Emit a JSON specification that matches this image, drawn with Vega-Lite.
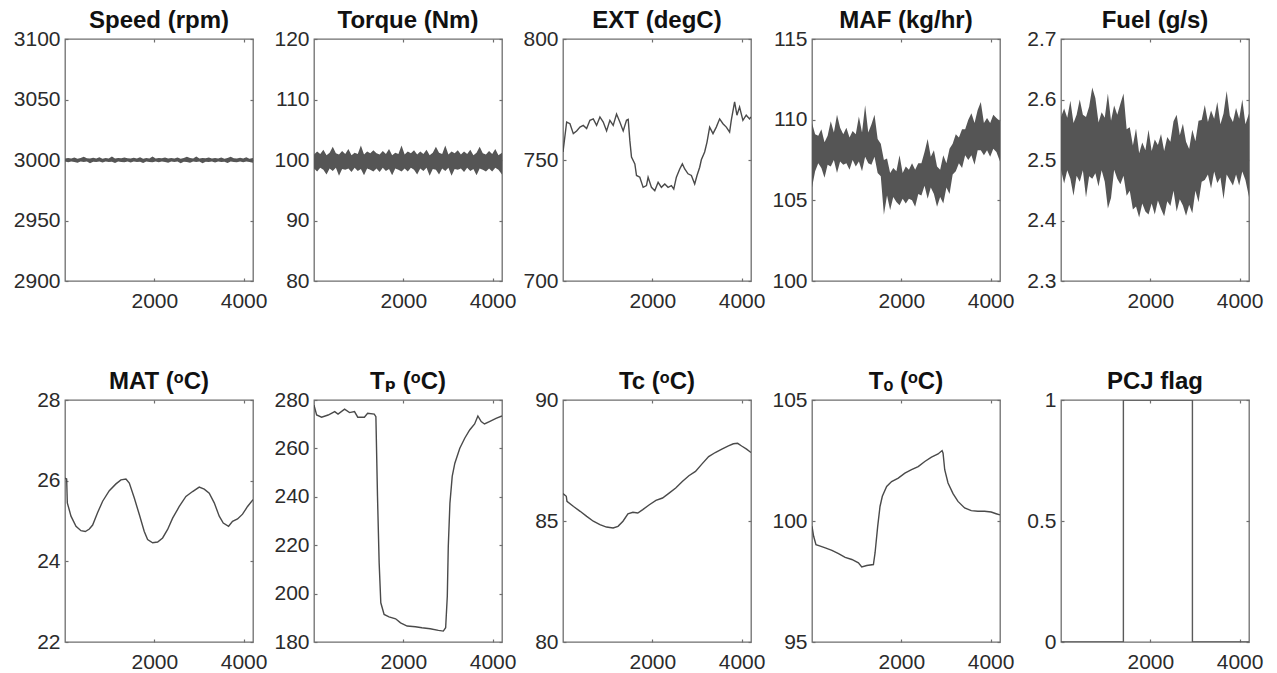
{
  "$schema": "https://vega.github.io/schema/vega-lite/v6.json",
  "background": "white",
  "padding": {"left": 12, "top": 8, "right": 0, "bottom": 0},
  "config": {
    "font": "Liberation Sans",
    "view": {"stroke": "#6e6e6e", "strokeWidth": 1.3},
    "axis": {"grid": false, "domain": false, "tickColor": "#6e6e6e", "tickSize": -3, "tickWidth": 1.2, "labelFontSize": 21, "labelColor": "#2b2b2b", "labelFont": "Liberation Sans", "labelFlush": false, "labelOverlap": false, "labelBound": false, "labelExpr": "datum.value + ''"},
    "axisBottom": {"labelPadding": 12},
    "axisLeft": {"labelPadding": 8},
    "axisTop": {"labelPadding": 0, "labels": false},
    "axisRight": {"labelPadding": 0, "labels": false},
    "title": {"font": "Liberation Sans, DejaVu Sans", "fontSize": 24, "fontWeight": "bold", "color": "#111111", "offset": -5, "anchor": "middle", "frame": "group"}
  },
  "datasets": {
    "speed": [
      {"t":0,"hi":3001.2,"lo":2998.7},{"t":70,"hi":3001.7,"lo":2998.2},{"t":140,"hi":3001.3,"lo":2998.8},{"t":210,"hi":3002.1,"lo":2998.4},{"t":280,"hi":3001.0,"lo":2997.7},{"t":350,"hi":3001.6,"lo":2998.7},{"t":420,"hi":3002.6,"lo":2998.3},{"t":490,"hi":3001.4,"lo":2998.8},{"t":560,"hi":3001.2,"lo":2997.4},{"t":630,"hi":3001.8,"lo":2998.6},{"t":700,"hi":3001.3,"lo":2998.4},{"t":770,"hi":3002.2,"lo":2998.7},{"t":840,"hi":3001.0,"lo":2998.0},{"t":910,"hi":3001.6,"lo":2998.8},{"t":980,"hi":3001.3,"lo":2998.3},{"t":1050,"hi":3002.9,"lo":2998.6},{"t":1120,"hi":3001.2,"lo":2997.5},{"t":1190,"hi":3001.7,"lo":2998.7},{"t":1260,"hi":3001.4,"lo":2998.4},{"t":1330,"hi":3002.0,"lo":2998.2},{"t":1400,"hi":3001.4,"lo":2998.7},{"t":1470,"hi":3001.2,"lo":2998.0},{"t":1540,"hi":3001.8,"lo":2998.8},{"t":1610,"hi":3001.3,"lo":2998.3},{"t":1680,"hi":3002.2,"lo":2998.6},{"t":1750,"hi":3001.0,"lo":2997.5},{"t":1820,"hi":3001.6,"lo":2998.7},{"t":1890,"hi":3001.3,"lo":2998.4},{"t":1960,"hi":3002.9,"lo":2998.2},{"t":2030,"hi":3001.2,"lo":2998.7},{"t":2100,"hi":3001.7,"lo":2998.2},{"t":2170,"hi":3001.4,"lo":2998.8},{"t":2240,"hi":3002.0,"lo":2998.4},{"t":2310,"hi":3001.2,"lo":2997.7},{"t":2380,"hi":3001.7,"lo":2998.7},{"t":2450,"hi":3001.3,"lo":2998.3},{"t":2520,"hi":3002.1,"lo":2998.8},{"t":2590,"hi":3001.0,"lo":2997.4},{"t":2660,"hi":3001.6,"lo":2998.6},{"t":2730,"hi":3002.6,"lo":2998.4},{"t":2800,"hi":3001.6,"lo":2997.7},{"t":2870,"hi":3001.3,"lo":2998.7},{"t":2940,"hi":3002.9,"lo":2998.3},{"t":3010,"hi":3001.2,"lo":2998.8},{"t":3080,"hi":3001.7,"lo":2997.4},{"t":3150,"hi":3001.4,"lo":2998.6},{"t":3220,"hi":3002.0,"lo":2998.4},{"t":3290,"hi":3001.2,"lo":2998.7},{"t":3360,"hi":3001.7,"lo":2998.0},{"t":3430,"hi":3001.3,"lo":2998.8},{"t":3500,"hi":3002.1,"lo":2998.3},{"t":3570,"hi":3001.0,"lo":2998.6},{"t":3640,"hi":3001.6,"lo":2997.5},{"t":3710,"hi":3002.6,"lo":2998.7},{"t":3780,"hi":3001.4,"lo":2998.4},{"t":3850,"hi":3001.2,"lo":2998.2},{"t":3920,"hi":3001.8,"lo":2998.7},{"t":3990,"hi":3001.3,"lo":2998.2},{"t":4060,"hi":3002.2,"lo":2998.8},{"t":4130,"hi":3001.0,"lo":2998.4},{"t":4210,"hi":3001.6,"lo":2997.7}
    ],
    "torque": [
      {"t":0,"hi":100.9,"lo":98.6},{"t":70,"hi":101.4,"lo":98.1},{"t":140,"hi":101.0,"lo":98.7},{"t":210,"hi":101.7,"lo":98.4},{"t":280,"hi":100.8,"lo":97.6},{"t":350,"hi":101.2,"lo":98.6},{"t":420,"hi":102.2,"lo":98.2},{"t":490,"hi":101.1,"lo":98.7},{"t":560,"hi":100.9,"lo":97.4},{"t":630,"hi":101.5,"lo":98.5},{"t":700,"hi":101.0,"lo":98.4},{"t":770,"hi":101.8,"lo":98.6},{"t":840,"hi":100.8,"lo":98.0},{"t":910,"hi":101.2,"lo":98.7},{"t":980,"hi":101.0,"lo":98.2},{"t":1050,"hi":102.4,"lo":98.5},{"t":1120,"hi":100.9,"lo":97.5},{"t":1190,"hi":101.4,"lo":98.6},{"t":1260,"hi":101.1,"lo":98.4},{"t":1330,"hi":101.6,"lo":98.1},{"t":1400,"hi":101.1,"lo":98.6},{"t":1470,"hi":100.9,"lo":98.0},{"t":1540,"hi":101.5,"lo":98.7},{"t":1610,"hi":101.0,"lo":98.2},{"t":1680,"hi":101.8,"lo":98.5},{"t":1750,"hi":100.8,"lo":97.5},{"t":1820,"hi":101.2,"lo":98.6},{"t":1890,"hi":101.0,"lo":98.4},{"t":1960,"hi":102.4,"lo":98.1},{"t":2030,"hi":100.9,"lo":98.6},{"t":2100,"hi":101.4,"lo":98.1},{"t":2170,"hi":101.1,"lo":98.7},{"t":2240,"hi":101.6,"lo":98.4},{"t":2310,"hi":100.9,"lo":97.6},{"t":2380,"hi":101.4,"lo":98.6},{"t":2450,"hi":101.0,"lo":98.2},{"t":2520,"hi":101.7,"lo":98.7},{"t":2590,"hi":100.8,"lo":97.4},{"t":2660,"hi":101.2,"lo":98.5},{"t":2730,"hi":102.2,"lo":98.4},{"t":2800,"hi":101.2,"lo":97.6},{"t":2870,"hi":101.0,"lo":98.6},{"t":2940,"hi":102.4,"lo":98.2},{"t":3010,"hi":100.9,"lo":98.7},{"t":3080,"hi":101.4,"lo":97.4},{"t":3150,"hi":101.1,"lo":98.5},{"t":3220,"hi":101.6,"lo":98.4},{"t":3290,"hi":100.9,"lo":98.6},{"t":3360,"hi":101.4,"lo":98.0},{"t":3430,"hi":101.0,"lo":98.7},{"t":3500,"hi":101.7,"lo":98.2},{"t":3570,"hi":100.8,"lo":98.5},{"t":3640,"hi":101.2,"lo":97.5},{"t":3710,"hi":102.2,"lo":98.6},{"t":3780,"hi":101.1,"lo":98.4},{"t":3850,"hi":100.9,"lo":98.1},{"t":3920,"hi":101.5,"lo":98.6},{"t":3990,"hi":101.0,"lo":98.1},{"t":4060,"hi":101.8,"lo":98.7},{"t":4130,"hi":100.8,"lo":98.4},{"t":4210,"hi":101.2,"lo":97.6}
    ],
    "ext": [
      {"t":0,"v":753.3},{"t":82,"v":765.7},{"t":156,"v":765},{"t":231,"v":760.9},{"t":305,"v":762},{"t":380,"v":763.6},{"t":454,"v":764.3},{"t":529,"v":763},{"t":603,"v":766.4},{"t":678,"v":767},{"t":752,"v":764.3},{"t":827,"v":767.8},{"t":901,"v":765.7},{"t":976,"v":762},{"t":1050,"v":766.4},{"t":1124,"v":764.3},{"t":1199,"v":769},{"t":1273,"v":765.7},{"t":1348,"v":762},{"t":1422,"v":766.4},{"t":1460,"v":766.8},{"t":1497,"v":758},{"t":1534,"v":751.2},{"t":1609,"v":748.4},{"t":1646,"v":743.6},{"t":1720,"v":742.9},{"t":1795,"v":738.7},{"t":1869,"v":739.4},{"t":1906,"v":742.9},{"t":1981,"v":738.7},{"t":2055,"v":737.3},{"t":2130,"v":740.8},{"t":2204,"v":738.7},{"t":2279,"v":740.1},{"t":2353,"v":738.7},{"t":2428,"v":739.4},{"t":2480,"v":738},{"t":2539,"v":742.9},{"t":2614,"v":746.3},{"t":2673,"v":748.4},{"t":2726,"v":746.3},{"t":2800,"v":744.3},{"t":2875,"v":743.6},{"t":2949,"v":740.1},{"t":3001,"v":743.6},{"t":3061,"v":747},{"t":3098,"v":750.1},{"t":3172,"v":753.3},{"t":3225,"v":757.4},{"t":3284,"v":763.6},{"t":3359,"v":760.9},{"t":3433,"v":763.6},{"t":3508,"v":767},{"t":3582,"v":765},{"t":3657,"v":763.6},{"t":3731,"v":761.5},{"t":3768,"v":766.4},{"t":3843,"v":774},{"t":3895,"v":768.5},{"t":3954,"v":771.9},{"t":4029,"v":766.4},{"t":4103,"v":768.5},{"t":4178,"v":767},{"t":4210,"v":767.8}
    ],
    "maf": [
      {"t":0,"hi":109.8,"lo":105.8},{"t":70,"hi":109.1,"lo":106.8},{"t":140,"hi":109.0,"lo":107.3},{"t":210,"hi":109.4,"lo":107.0},{"t":280,"hi":108.6,"lo":106.4},{"t":350,"hi":109.0,"lo":107.2},{"t":420,"hi":109.9,"lo":107.1},{"t":490,"hi":109.2,"lo":107.5},{"t":560,"hi":110.3,"lo":106.7},{"t":630,"hi":109.5,"lo":107.4},{"t":700,"hi":109.1,"lo":107.2},{"t":770,"hi":109.5,"lo":107.3},{"t":840,"hi":108.9,"lo":106.9},{"t":910,"hi":109.3,"lo":107.5},{"t":980,"hi":109.1,"lo":107.1},{"t":1050,"hi":110.2,"lo":107.4},{"t":1120,"hi":109.2,"lo":106.8},{"t":1190,"hi":110.9,"lo":107.7},{"t":1260,"hi":109.2,"lo":107.3},{"t":1330,"hi":109.7,"lo":107.2},{"t":1400,"hi":110.3,"lo":107.7},{"t":1470,"hi":108.8,"lo":106.7},{"t":1540,"hi":108.5,"lo":106.5},{"t":1610,"hi":107.5,"lo":104.1},{"t":1680,"hi":107.6,"lo":105.3},{"t":1750,"hi":106.7,"lo":104.4},{"t":1820,"hi":107.0,"lo":105.2},{"t":1890,"hi":106.8,"lo":104.9},{"t":1960,"hi":107.8,"lo":104.7},{"t":2030,"hi":106.7,"lo":105.1},{"t":2100,"hi":107.1,"lo":104.8},{"t":2170,"hi":106.9,"lo":105.1},{"t":2240,"hi":107.3,"lo":105.0},{"t":2310,"hi":106.9,"lo":104.6},{"t":2380,"hi":107.3,"lo":105.4},{"t":2450,"hi":107.3,"lo":105.3},{"t":2520,"hi":108.0,"lo":105.9},{"t":2590,"hi":108.8,"lo":105.1},{"t":2660,"hi":107.7,"lo":105.8},{"t":2730,"hi":108.1,"lo":105.4},{"t":2800,"hi":107.1,"lo":104.6},{"t":2870,"hi":106.9,"lo":105.2},{"t":2940,"hi":107.8,"lo":104.8},{"t":3010,"hi":107.3,"lo":105.8},{"t":3080,"hi":108.2,"lo":105.4},{"t":3150,"hi":108.5,"lo":106.6},{"t":3220,"hi":109.1,"lo":106.8},{"t":3290,"hi":108.9,"lo":107.3},{"t":3360,"hi":109.4,"lo":107.0},{"t":3430,"hi":109.4,"lo":107.8},{"t":3500,"hi":110.0,"lo":107.5},{"t":3570,"hi":110.4,"lo":107.8},{"t":3640,"hi":109.8,"lo":107.2},{"t":3710,"hi":110.6,"lo":108.1},{"t":3780,"hi":111.1,"lo":108.1},{"t":3850,"hi":109.8,"lo":107.8},{"t":3920,"hi":110.1,"lo":108.1},{"t":3990,"hi":109.8,"lo":107.7},{"t":4060,"hi":110.3,"lo":108.2},{"t":4130,"hi":110.1,"lo":108.0},{"t":4210,"hi":109.9,"lo":107.4}
    ],
    "fuel": [
      {"t":0,"hi":2.571,"lo":2.484},{"t":70,"hi":2.585,"lo":2.461},{"t":140,"hi":2.57,"lo":2.483},{"t":210,"hi":2.598,"lo":2.469},{"t":280,"hi":2.561,"lo":2.441},{"t":350,"hi":2.575,"lo":2.474},{"t":420,"hi":2.6,"lo":2.464},{"t":490,"hi":2.575,"lo":2.483},{"t":560,"hi":2.571,"lo":2.438},{"t":630,"hi":2.588,"lo":2.473},{"t":700,"hi":2.62,"lo":2.469},{"t":770,"hi":2.602,"lo":2.478},{"t":840,"hi":2.562,"lo":2.456},{"t":910,"hi":2.579,"lo":2.483},{"t":980,"hi":2.57,"lo":2.464},{"t":1050,"hi":2.61,"lo":2.42},{"t":1120,"hi":2.565,"lo":2.437},{"t":1190,"hi":2.59,"lo":2.484},{"t":1260,"hi":2.575,"lo":2.469},{"t":1330,"hi":2.593,"lo":2.46},{"t":1400,"hi":2.61,"lo":2.474},{"t":1470,"hi":2.551,"lo":2.441},{"t":1540,"hi":2.554,"lo":2.449},{"t":1610,"hi":2.524,"lo":2.418},{"t":1680,"hi":2.552,"lo":2.423},{"t":1750,"hi":2.511,"lo":2.405},{"t":1820,"hi":2.529,"lo":2.428},{"t":1890,"hi":2.516,"lo":2.415},{"t":1960,"hi":2.55,"lo":2.41},{"t":2030,"hi":2.515,"lo":2.428},{"t":2100,"hi":2.534,"lo":2.41},{"t":2170,"hi":2.525,"lo":2.433},{"t":2240,"hi":2.543,"lo":2.419},{"t":2310,"hi":2.515,"lo":2.407},{"t":2380,"hi":2.538,"lo":2.432},{"t":2450,"hi":2.53,"lo":2.424},{"t":2520,"hi":2.564,"lo":2.449},{"t":2590,"hi":2.575,"lo":2.415},{"t":2660,"hi":2.541,"lo":2.435},{"t":2730,"hi":2.56,"lo":2.425},{"t":2800,"hi":2.53,"lo":2.408},{"t":2870,"hi":2.518,"lo":2.426},{"t":2940,"hi":2.55,"lo":2.412},{"t":3010,"hi":2.531,"lo":2.449},{"t":3080,"hi":2.565,"lo":2.43},{"t":3150,"hi":2.566,"lo":2.464},{"t":3220,"hi":2.591,"lo":2.467},{"t":3290,"hi":2.563,"lo":2.476},{"t":3360,"hi":2.582,"lo":2.453},{"t":3430,"hi":2.568,"lo":2.481},{"t":3500,"hi":2.596,"lo":2.462},{"t":3570,"hi":2.559,"lo":2.471},{"t":3640,"hi":2.577,"lo":2.435},{"t":3710,"hi":2.614,"lo":2.476},{"t":3780,"hi":2.573,"lo":2.467},{"t":3850,"hi":2.563,"lo":2.458},{"t":3920,"hi":2.586,"lo":2.476},{"t":3990,"hi":2.568,"lo":2.458},{"t":4060,"hi":2.6,"lo":2.481},{"t":4130,"hi":2.559,"lo":2.467},{"t":4210,"hi":2.577,"lo":2.439}
    ],
    "mat": [
      {"t":0,"v":26.06},{"t":37,"v":26.04},{"t":52,"v":25.45},{"t":134,"v":25.12},{"t":246,"v":24.87},{"t":358,"v":24.76},{"t":455,"v":24.74},{"t":545,"v":24.8},{"t":619,"v":24.9},{"t":731,"v":25.21},{"t":843,"v":25.49},{"t":992,"v":25.75},{"t":1141,"v":25.92},{"t":1253,"v":26.02},{"t":1365,"v":26.04},{"t":1440,"v":25.94},{"t":1552,"v":25.57},{"t":1664,"v":25.16},{"t":1775,"v":24.74},{"t":1850,"v":24.54},{"t":1962,"v":24.46},{"t":2074,"v":24.48},{"t":2186,"v":24.58},{"t":2298,"v":24.79},{"t":2410,"v":25.07},{"t":2559,"v":25.36},{"t":2708,"v":25.61},{"t":2857,"v":25.73},{"t":3006,"v":25.84},{"t":3118,"v":25.79},{"t":3230,"v":25.69},{"t":3342,"v":25.45},{"t":3454,"v":25.12},{"t":3544,"v":24.95},{"t":3663,"v":24.87},{"t":3752,"v":24.99},{"t":3864,"v":25.05},{"t":3976,"v":25.17},{"t":4088,"v":25.36},{"t":4210,"v":25.53}
    ],
    "tp": [
      {"t":0,"v":277.9},{"t":59,"v":273.8},{"t":170,"v":272.9},{"t":317,"v":273.8},{"t":464,"v":275.2},{"t":538,"v":274.2},{"t":685,"v":276.2},{"t":796,"v":274.8},{"t":907,"v":275.2},{"t":980,"v":272.9},{"t":1128,"v":272.9},{"t":1201,"v":274.5},{"t":1349,"v":274.2},{"t":1386,"v":273.1},{"t":1422,"v":240.2},{"t":1459,"v":212.7},{"t":1496,"v":196.2},{"t":1570,"v":191.4},{"t":1680,"v":190.4},{"t":1828,"v":189.6},{"t":1938,"v":187.9},{"t":2086,"v":186.6},{"t":2270,"v":186.3},{"t":2417,"v":185.9},{"t":2602,"v":185.5},{"t":2786,"v":184.8},{"t":2896,"v":184.5},{"t":2948,"v":185.9},{"t":2985,"v":198.9},{"t":3007,"v":219.5},{"t":3044,"v":237.4},{"t":3095,"v":248.4},{"t":3154,"v":253.9},{"t":3265,"v":260.1},{"t":3375,"v":264.2},{"t":3486,"v":267.6},{"t":3597,"v":270.1},{"t":3670,"v":273.4},{"t":3744,"v":271.1},{"t":3818,"v":270.1},{"t":3928,"v":271.1},{"t":4076,"v":272.4},{"t":4210,"v":273.4}
    ],
    "tc": [
      {"t":0,"v":86.13},{"t":74,"v":86.02},{"t":89,"v":85.81},{"t":236,"v":85.6},{"t":384,"v":85.4},{"t":531,"v":85.19},{"t":679,"v":84.99},{"t":827,"v":84.85},{"t":974,"v":84.75},{"t":1122,"v":84.71},{"t":1232,"v":84.78},{"t":1343,"v":84.99},{"t":1454,"v":85.3},{"t":1565,"v":85.36},{"t":1675,"v":85.33},{"t":1786,"v":85.47},{"t":1934,"v":85.67},{"t":2081,"v":85.85},{"t":2229,"v":85.95},{"t":2376,"v":86.15},{"t":2524,"v":86.36},{"t":2672,"v":86.63},{"t":2819,"v":86.87},{"t":2967,"v":87.05},{"t":3114,"v":87.36},{"t":3262,"v":87.66},{"t":3410,"v":87.83},{"t":3557,"v":87.97},{"t":3705,"v":88.1},{"t":3815,"v":88.19},{"t":3911,"v":88.21},{"t":4000,"v":88.1},{"t":4111,"v":87.97},{"t":4210,"v":87.83}
    ],
    "to": [
      {"t":0,"v":99.78},{"t":37,"v":99.37},{"t":89,"v":99.02},{"t":186,"v":98.96},{"t":297,"v":98.89},{"t":446,"v":98.79},{"t":594,"v":98.65},{"t":743,"v":98.5},{"t":892,"v":98.41},{"t":1040,"v":98.27},{"t":1114,"v":98.1},{"t":1226,"v":98.16},{"t":1375,"v":98.2},{"t":1412,"v":98.68},{"t":1471,"v":99.78},{"t":1523,"v":100.6},{"t":1575,"v":101.02},{"t":1672,"v":101.43},{"t":1783,"v":101.63},{"t":1932,"v":101.77},{"t":2080,"v":101.98},{"t":2229,"v":102.12},{"t":2378,"v":102.25},{"t":2526,"v":102.46},{"t":2675,"v":102.64},{"t":2823,"v":102.77},{"t":2913,"v":102.91},{"t":2935,"v":102.8},{"t":2972,"v":102.12},{"t":3046,"v":101.57},{"t":3158,"v":101.13},{"t":3269,"v":100.81},{"t":3418,"v":100.54},{"t":3566,"v":100.43},{"t":3715,"v":100.4},{"t":3864,"v":100.4},{"t":4012,"v":100.37},{"t":4124,"v":100.3},{"t":4210,"v":100.25}
    ],
    "pcj": [
      {"t":0,"v":0},{"t":1397,"v":0},{"t":1397,"v":1},{"t":2943,"v":1},{"t":2943,"v":0},{"t":4210,"v":0}
    ]
  },
  "columns": 5,
  "spacing": {"row": 119, "column": 61},
  "bounds": "flush",
  "concat": [
    {"title": "Speed (rpm)", "width": 188, "height": 242, "data": {"name": "speed"},
     "layer": [
       {"mark": {"type": "area", "color": "#555555", "clip": true},
        "encoding": {
          "x": {"field": "t", "type": "quantitative", "title": null, "scale": {"domain": [0, 4210], "nice": false}, "axis": {"values": [2000, 4000]}},
          "y": {"field": "hi", "type": "quantitative", "title": null, "scale": {"domain": [2900, 3100], "nice": false, "zero": false}, "axis": {"values": [2900, 2950, 3000, 3050, 3100]}},
          "y2": {"field": "lo"}}},
       {"mark": {"type": "point", "opacity": 0},
        "encoding": {
          "x": {"field": "t", "type": "quantitative", "title": null, "scale": {"domain": [0, 4210], "nice": false}, "axis": {"orient": "top", "values": [2000, 4000], "labels": false}},
          "y": {"field": "hi", "type": "quantitative", "title": null, "scale": {"domain": [2900, 3100], "nice": false, "zero": false}, "axis": {"orient": "right", "values": [2900, 2950, 3000, 3050, 3100], "labels": false}}}}
     ],
     "resolve": {"scale": {"x": "independent", "y": "independent"}}},
    {"title": "Torque (Nm)", "width": 188, "height": 242, "data": {"name": "torque"},
     "layer": [
       {"mark": {"type": "area", "color": "#555555", "clip": true},
        "encoding": {
          "x": {"field": "t", "type": "quantitative", "title": null, "scale": {"domain": [0, 4210], "nice": false}, "axis": {"values": [2000, 4000]}},
          "y": {"field": "hi", "type": "quantitative", "title": null, "scale": {"domain": [80, 120], "nice": false, "zero": false}, "axis": {"values": [80, 90, 100, 110, 120]}},
          "y2": {"field": "lo"}}},
       {"mark": {"type": "point", "opacity": 0},
        "encoding": {
          "x": {"field": "t", "type": "quantitative", "title": null, "scale": {"domain": [0, 4210], "nice": false}, "axis": {"orient": "top", "values": [2000, 4000], "labels": false}},
          "y": {"field": "hi", "type": "quantitative", "title": null, "scale": {"domain": [80, 120], "nice": false, "zero": false}, "axis": {"orient": "right", "values": [80, 90, 100, 110, 120], "labels": false}}}}
     ],
     "resolve": {"scale": {"x": "independent", "y": "independent"}}},
    {"title": "EXT (degC)", "width": 188, "height": 242, "data": {"name": "ext"},
     "layer": [
       {"mark": {"type": "line", "color": "#4a4a4a", "strokeWidth": 1.4, "clip": true},
        "encoding": {
          "x": {"field": "t", "type": "quantitative", "title": null, "scale": {"domain": [0, 4210], "nice": false}, "axis": {"values": [2000, 4000]}},
          "y": {"field": "v", "type": "quantitative", "title": null, "scale": {"domain": [700, 800], "nice": false, "zero": false}, "axis": {"values": [700, 750, 800]}}}},
       {"mark": {"type": "point", "opacity": 0},
        "encoding": {
          "x": {"field": "t", "type": "quantitative", "title": null, "scale": {"domain": [0, 4210], "nice": false}, "axis": {"orient": "top", "values": [2000, 4000], "labels": false}},
          "y": {"field": "v", "type": "quantitative", "title": null, "scale": {"domain": [700, 800], "nice": false, "zero": false}, "axis": {"orient": "right", "values": [700, 750, 800], "labels": false}}}}
     ],
     "resolve": {"scale": {"x": "independent", "y": "independent"}}},
    {"title": "MAF (kg/hr)", "width": 188, "height": 242, "data": {"name": "maf"},
     "layer": [
       {"mark": {"type": "area", "color": "#555555", "clip": true},
        "encoding": {
          "x": {"field": "t", "type": "quantitative", "title": null, "scale": {"domain": [0, 4210], "nice": false}, "axis": {"values": [2000, 4000]}},
          "y": {"field": "hi", "type": "quantitative", "title": null, "scale": {"domain": [100, 115], "nice": false, "zero": false}, "axis": {"values": [100, 105, 110, 115]}},
          "y2": {"field": "lo"}}},
       {"mark": {"type": "point", "opacity": 0},
        "encoding": {
          "x": {"field": "t", "type": "quantitative", "title": null, "scale": {"domain": [0, 4210], "nice": false}, "axis": {"orient": "top", "values": [2000, 4000], "labels": false}},
          "y": {"field": "hi", "type": "quantitative", "title": null, "scale": {"domain": [100, 115], "nice": false, "zero": false}, "axis": {"orient": "right", "values": [100, 105, 110, 115], "labels": false}}}}
     ],
     "resolve": {"scale": {"x": "independent", "y": "independent"}}},
    {"title": "Fuel (g/s)", "width": 188, "height": 242, "data": {"name": "fuel"},
     "layer": [
       {"mark": {"type": "area", "color": "#555555", "clip": true},
        "encoding": {
          "x": {"field": "t", "type": "quantitative", "title": null, "scale": {"domain": [0, 4210], "nice": false}, "axis": {"values": [2000, 4000]}},
          "y": {"field": "hi", "type": "quantitative", "title": null, "scale": {"domain": [2.3, 2.7], "nice": false, "zero": false}, "axis": {"values": [2.3, 2.4, 2.5, 2.6, 2.7]}},
          "y2": {"field": "lo"}}},
       {"mark": {"type": "point", "opacity": 0},
        "encoding": {
          "x": {"field": "t", "type": "quantitative", "title": null, "scale": {"domain": [0, 4210], "nice": false}, "axis": {"orient": "top", "values": [2000, 4000], "labels": false}},
          "y": {"field": "hi", "type": "quantitative", "title": null, "scale": {"domain": [2.3, 2.7], "nice": false, "zero": false}, "axis": {"orient": "right", "values": [2.3, 2.4, 2.5, 2.6, 2.7], "labels": false}}}}
     ],
     "resolve": {"scale": {"x": "independent", "y": "independent"}}},
    {"title": "MAT (ᵒC)", "width": 188, "height": 242, "data": {"name": "mat"},
     "layer": [
       {"mark": {"type": "line", "color": "#4a4a4a", "strokeWidth": 1.4, "clip": true},
        "encoding": {
          "x": {"field": "t", "type": "quantitative", "title": null, "scale": {"domain": [0, 4210], "nice": false}, "axis": {"values": [2000, 4000]}},
          "y": {"field": "v", "type": "quantitative", "title": null, "scale": {"domain": [22, 28], "nice": false, "zero": false}, "axis": {"values": [22, 24, 26, 28]}}}},
       {"mark": {"type": "point", "opacity": 0},
        "encoding": {
          "x": {"field": "t", "type": "quantitative", "title": null, "scale": {"domain": [0, 4210], "nice": false}, "axis": {"orient": "top", "values": [2000, 4000], "labels": false}},
          "y": {"field": "v", "type": "quantitative", "title": null, "scale": {"domain": [22, 28], "nice": false, "zero": false}, "axis": {"orient": "right", "values": [22, 24, 26, 28], "labels": false}}}}
     ],
     "resolve": {"scale": {"x": "independent", "y": "independent"}}},
    {"title": "Tₚ (ᵒC)", "width": 188, "height": 242, "data": {"name": "tp"},
     "layer": [
       {"mark": {"type": "line", "color": "#4a4a4a", "strokeWidth": 1.4, "clip": true},
        "encoding": {
          "x": {"field": "t", "type": "quantitative", "title": null, "scale": {"domain": [0, 4210], "nice": false}, "axis": {"values": [2000, 4000]}},
          "y": {"field": "v", "type": "quantitative", "title": null, "scale": {"domain": [180, 280], "nice": false, "zero": false}, "axis": {"values": [180, 200, 220, 240, 260, 280]}}}},
       {"mark": {"type": "point", "opacity": 0},
        "encoding": {
          "x": {"field": "t", "type": "quantitative", "title": null, "scale": {"domain": [0, 4210], "nice": false}, "axis": {"orient": "top", "values": [2000, 4000], "labels": false}},
          "y": {"field": "v", "type": "quantitative", "title": null, "scale": {"domain": [180, 280], "nice": false, "zero": false}, "axis": {"orient": "right", "values": [180, 200, 220, 240, 260, 280], "labels": false}}}}
     ],
     "resolve": {"scale": {"x": "independent", "y": "independent"}}},
    {"title": "Tc (ᵒC)", "width": 188, "height": 242, "data": {"name": "tc"},
     "layer": [
       {"mark": {"type": "line", "color": "#4a4a4a", "strokeWidth": 1.4, "clip": true},
        "encoding": {
          "x": {"field": "t", "type": "quantitative", "title": null, "scale": {"domain": [0, 4210], "nice": false}, "axis": {"values": [2000, 4000]}},
          "y": {"field": "v", "type": "quantitative", "title": null, "scale": {"domain": [80, 90], "nice": false, "zero": false}, "axis": {"values": [80, 85, 90]}}}},
       {"mark": {"type": "point", "opacity": 0},
        "encoding": {
          "x": {"field": "t", "type": "quantitative", "title": null, "scale": {"domain": [0, 4210], "nice": false}, "axis": {"orient": "top", "values": [2000, 4000], "labels": false}},
          "y": {"field": "v", "type": "quantitative", "title": null, "scale": {"domain": [80, 90], "nice": false, "zero": false}, "axis": {"orient": "right", "values": [80, 85, 90], "labels": false}}}}
     ],
     "resolve": {"scale": {"x": "independent", "y": "independent"}}},
    {"title": "Tₒ (ᵒC)", "width": 188, "height": 242, "data": {"name": "to"},
     "layer": [
       {"mark": {"type": "line", "color": "#4a4a4a", "strokeWidth": 1.4, "clip": true},
        "encoding": {
          "x": {"field": "t", "type": "quantitative", "title": null, "scale": {"domain": [0, 4210], "nice": false}, "axis": {"values": [2000, 4000]}},
          "y": {"field": "v", "type": "quantitative", "title": null, "scale": {"domain": [95, 105], "nice": false, "zero": false}, "axis": {"values": [95, 100, 105]}}}},
       {"mark": {"type": "point", "opacity": 0},
        "encoding": {
          "x": {"field": "t", "type": "quantitative", "title": null, "scale": {"domain": [0, 4210], "nice": false}, "axis": {"orient": "top", "values": [2000, 4000], "labels": false}},
          "y": {"field": "v", "type": "quantitative", "title": null, "scale": {"domain": [95, 105], "nice": false, "zero": false}, "axis": {"orient": "right", "values": [95, 100, 105], "labels": false}}}}
     ],
     "resolve": {"scale": {"x": "independent", "y": "independent"}}},
    {"title": "PCJ flag", "width": 188, "height": 242, "data": {"name": "pcj"},
     "layer": [
       {"mark": {"type": "line", "color": "#5a5a5a", "strokeWidth": 1.4, "clip": true},
        "encoding": {
          "x": {"field": "t", "type": "quantitative", "title": null, "scale": {"domain": [0, 4210], "nice": false}, "axis": {"values": [2000, 4000]}},
          "y": {"field": "v", "type": "quantitative", "title": null, "scale": {"domain": [0, 1], "nice": false, "zero": false}, "axis": {"values": [0, 0.5, 1]}}}},
       {"mark": {"type": "point", "opacity": 0},
        "encoding": {
          "x": {"field": "t", "type": "quantitative", "title": null, "scale": {"domain": [0, 4210], "nice": false}, "axis": {"orient": "top", "values": [2000, 4000], "labels": false}},
          "y": {"field": "v", "type": "quantitative", "title": null, "scale": {"domain": [0, 1], "nice": false, "zero": false}, "axis": {"orient": "right", "values": [0, 0.5, 1], "labels": false}}}}
     ],
     "resolve": {"scale": {"x": "independent", "y": "independent"}}}
  ]
}
